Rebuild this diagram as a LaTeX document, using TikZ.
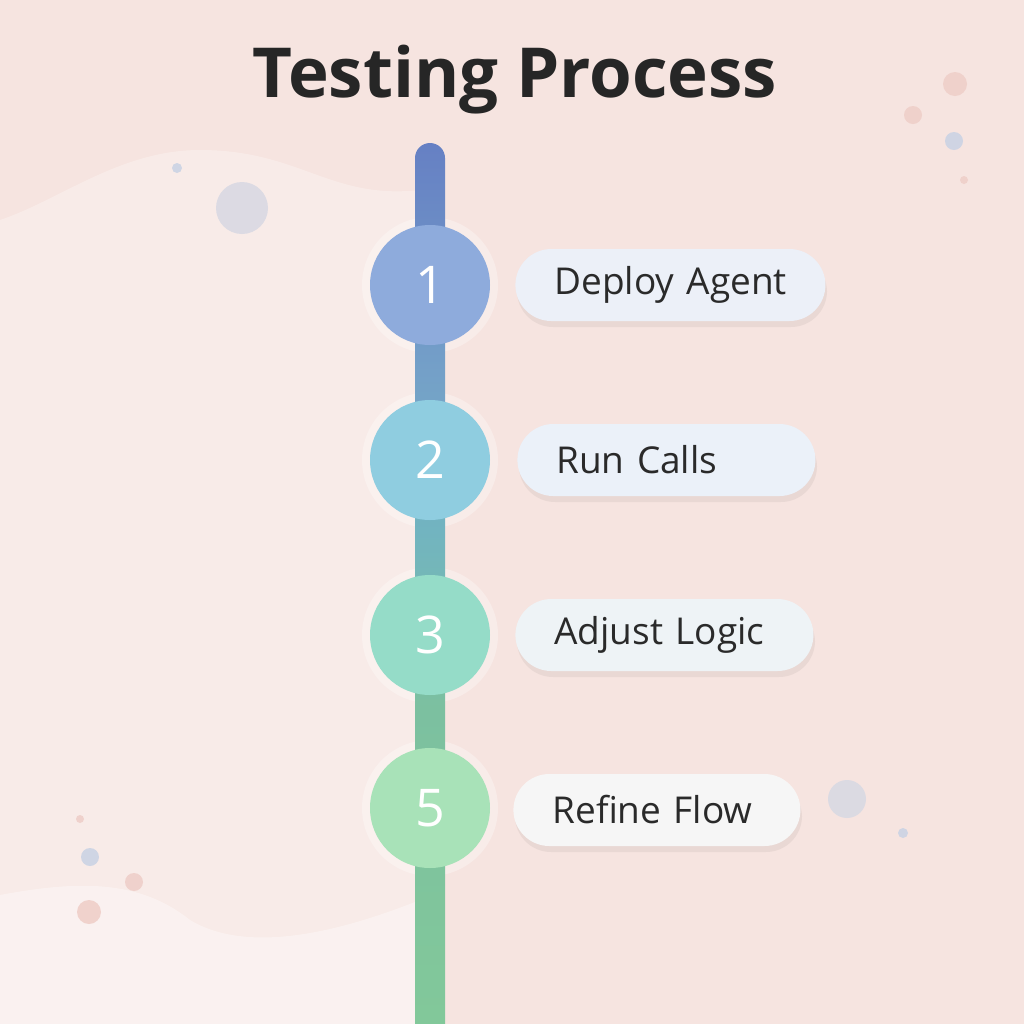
\documentclass[tikz,border=0pt]{standalone}
\usepackage{fontspec}
\setmainfont{Open Sans}
\usetikzlibrary{positioning}

\definecolor{bgpink}{HTML}{F6E4E0}
\definecolor{bglight}{HTML}{FAEFEC}
\definecolor{titlecol}{HTML}{262626}
\definecolor{textcol}{HTML}{2A2A2A}
\definecolor{barTop}{HTML}{6680C4}
\definecolor{barBlue}{HTML}{74A0C8}
\definecolor{barTeal}{HTML}{72B4C0}
\definecolor{barMint}{HTML}{7CC0A0}
\definecolor{barBot}{HTML}{82C89A}
\definecolor{stepA}{HTML}{8EABDC}
\definecolor{stepB}{HTML}{8FCDE0}
\definecolor{stepC}{HTML}{95DCC8}
\definecolor{stepE}{HTML}{A8E2B8}
\definecolor{pillA}{HTML}{ECF0F8}
\definecolor{pillB}{HTML}{EBF1F9}
\definecolor{pillC}{HTML}{EEF3F6}
\definecolor{pillE}{HTML}{F6F6F6}
\definecolor{dotgray}{HTML}{D9D9E3}
\definecolor{dotblue}{HTML}{CBD3E4}
\definecolor{dotpink}{HTML}{EFCFC9}

\pgfdeclareverticalshading{barshade}{100bp}{color(0bp)=(barBot); color(25bp)=(barBot);
    color(43bp)=(barMint); color(53bp)=(barTeal); color(62bp)=(barBlue);
    color(75bp)=(barTop); color(100bp)=(barTop)}

\begin{document}
\begin{tikzpicture}[x=0.5pt,y=-0.5pt]
    % 定义样式
    \tikzstyle{stepdot}=[circle, minimum size=60pt, inner sep=0pt, text=white,
        font=\fontsize{26}{30}\selectfont]
    \tikzstyle{glow}=[white, opacity=0.3]
    \tikzstyle{pill}=[rectangle, rounded corners=18pt, minimum height=36pt, inner xsep=19.5pt,
        align=left, anchor=west, text=textcol, font=\fontsize{18.5}{22}\selectfont]
    \tikzstyle{pillshadow}=[black, opacity=0.05, rounded corners=18pt]
    \tikzstyle{bubble}=[opacity=0.9]

    % 1. 背景
    \useasboundingbox (0,0) rectangle (1024,1024);
    \fill[bgpink] (0,0) rectangle (1024,1024);
    \fill[bglight, opacity=0.7] (0,220) .. controls (60,200) and (120,150) .. (200,150)
        .. controls (300,150) and (330,200) .. (420,190) -- (420,1024) -- (0,1024) -- cycle;
    \fill[white, opacity=0.35] (0,895) .. controls (80,880) and (140,880) .. (190,920)
        .. controls (240,950) and (320,940) .. (420,900) -- (420,1024) -- (0,1024) -- cycle;

    % 装饰小圆点
    \fill[bubble, dotgray] (242,208) circle (26);
    \fill[bubble, dotblue] (177,168) circle (5);
    \fill[bubble, dotpink] (955,84) circle (12);
    \fill[bubble, dotpink] (913,115) circle (9);
    \fill[bubble, dotblue] (954,141) circle (9);
    \fill[bubble, dotpink] (964,180) circle (4);
    \fill[bubble, dotgray] (847,799) circle (19);
    \fill[bubble, dotblue] (903,833) circle (5);
    \fill[bubble, dotpink] (80,819) circle (4);
    \fill[bubble, dotblue] (90,857) circle (9);
    \fill[bubble, dotpink] (134,882) circle (9);
    \fill[bubble, dotpink] (89,912) circle (12);

    % 2. 标题
    \node[font=\bfseries\fontsize{34.5}{38}\selectfont, text=titlecol] (title) at (515,80) {Testing Process};

    % 3. 步骤圆的淡光晕 (在时间轴之下)
    \fill[glow] (430,285) circle (68);
    \fill[glow] (430,460) circle (68);
    \fill[glow] (430,635) circle (68);
    \fill[glow] (430,808) circle (68);

    % 时间轴
    \shade[shading=barshade]
        (415,1024) -- (415,158) arc[start angle=180, end angle=360, radius=15] -- (445,1024) -- cycle;

    % 4. 步骤圆
    \node[stepdot, fill=stepA] (s1) at (430,285) {1};
    \node[stepdot, fill=stepB] (s2) at (430,460) {2};
    \node[stepdot, fill=stepC] (s3) at (430,635) {3};
    \node[stepdot, fill=stepE] (s5) at (430,808) {5};

    % 5. 标签 (先画阴影)
    \fill[pillshadow] (517,256) rectangle (827,327);
    \fill[pillshadow] (519,431) rectangle (817,502);
    \fill[pillshadow] (517,606) rectangle (815,677);
    \fill[pillshadow] (515,781) rectangle (802,852);
    \node[pill, fill=pillA, text width=116pt] (l1) at (515,285) {\mbox{Deploy Agent}};
    \node[pill, fill=pillB, text width=110pt] (l2) at (517,460) {\mbox{Run Calls}};
    \node[pill, fill=pillC, text width=110pt] (l3) at (515,635) {\mbox{Adjust Logic}};
    \node[pill, fill=pillE, text width=104.5pt] (l5) at (513,810) {\mbox{Refine Flow}};

\end{tikzpicture}
\end{document}
